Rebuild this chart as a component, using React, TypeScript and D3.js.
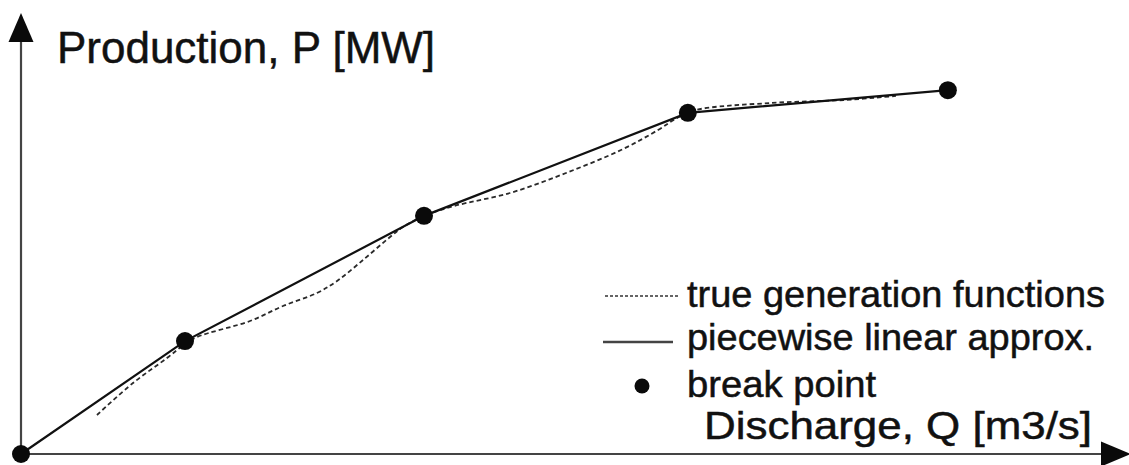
import React from "react";
import * as d3 from "d3";

// Break points of the piecewise linear approximation (Q, P) in relative units
const breakQ = [0, 15.2, 37.35, 61.8, 85.9];
const breakP = [0, 27.4, 57.8, 82.8, 88.3];

// True generation function (dashed curve)
const trueQ = [7.04, 10.38, 13.53, 15.2, 16.31, 21.22, 24.28, 27.43, 29.29, 31.7, 34.2, 35.4, 37.35, 40.13, 45.32, 50.51, 55.61, 59.04, 60.8, 62.56, 69.42, 76.27, 81.09];
const trueP = [9.47, 17.23, 23.3, 26.7, 28.4, 32.28, 35.92, 39.08, 41.99, 47.09, 52.67, 55.1, 57.77, 60.19, 63.35, 68.2, 73.79, 78.64, 81.55, 83.5, 85.19, 85.92, 86.9];

const yLabel = "Production, P [MW]";
const xLabel = "Discharge, Q [m3/s]";
const legendLabels = ["true generation functions", "piecewise linear approx.", "break point"];

const W = 1129;
const H = 465;

export default function App() {
  const x = d3.scaleLinear().domain([0, 100]).range([21, 1100]);
  const y = d3.scaleLinear().domain([0, 100]).range([454, 42]);

  const breaks = breakQ.map((q, i) => [q, breakP[i]] as [number, number]);
  const truePts = trueQ.map((q, i) => [q, trueP[i]] as [number, number]);

  const linear = d3
    .line<[number, number]>()
    .x((d) => x(d[0]))
    .y((d) => y(d[1]));
  const smooth = d3
    .line<[number, number]>()
    .x((d) => x(d[0]))
    .y((d) => y(d[1]))
    .curve(d3.curveCatmullRom.alpha(0.5));

  const font = "'Liberation Sans', Arial, Helvetica, sans-serif";
  const ox = x(0);
  const oy = y(0);
  const textStyle = { stroke: "#111", strokeWidth: 0.5 };

  return (
    <svg
      width={W}
      height={H}
      style={{ position: "absolute", left: 0, top: 0, background: "#fff" }}
      xmlns="http://www.w3.org/2000/svg"
    >
      {/* axes */}
      <line x1={ox} y1={oy} x2={ox} y2={40} stroke="#444" strokeWidth={2.2} />
      <line x1={ox} y1={oy} x2={1102} y2={oy} stroke="#444" strokeWidth={2.2} />
      <path d={`M${ox},13 L${ox - 12.5},42 L${ox + 12.5},42 Z`} fill="#0a0a0a" />
      <path d={`M1131,${oy} L1101,${oy - 12.5} L1101,${oy + 12.5} Z`} fill="#0a0a0a" />

      {/* true generation function */}
      <path
        d={smooth(truePts) || ""}
        fill="none"
        stroke="#2a2a2a"
        strokeWidth={1.8}
        strokeDasharray="4.5 3"
      />
      {/* piecewise linear approximation */}
      <path d={linear(breaks) || ""} fill="none" stroke="#111" strokeWidth={2.2} />
      {/* break points */}
      {breaks.map((d, i) => (
        <circle key={i} cx={x(d[0])} cy={y(d[1])} r={9} fill="#0a0a0a" />
      ))}

      {/* axis labels */}
      <text x={57} y={63} fontFamily={font} fontSize={45} fill="#111" style={textStyle} textLength={378} lengthAdjust="spacingAndGlyphs">
        {yLabel}
      </text>
      <text x={704} y={439} fontFamily={font} fontSize={39} fill="#111" style={textStyle} textLength={388} lengthAdjust="spacingAndGlyphs">
        {xLabel}
      </text>

      {/* legend */}
      <line x1={605} y1={296} x2={679} y2={296} stroke="#333" strokeWidth={1.4} strokeDasharray="3 2" />
      <text x={687} y={307} fontFamily={font} fontSize={37} fill="#111" style={textStyle} textLength={418} lengthAdjust="spacingAndGlyphs">
        {legendLabels[0]}
      </text>
      <line x1={603} y1={342} x2={673} y2={342} stroke="#444" strokeWidth={2.4} />
      <text x={687} y={350} fontFamily={font} fontSize={37} fill="#111" style={textStyle} textLength={407} lengthAdjust="spacingAndGlyphs">
        {legendLabels[1]}
      </text>
      <circle cx={642} cy={386} r={7.5} fill="#0a0a0a" />
      <text x={687} y={397} fontFamily={font} fontSize={37} fill="#111" style={textStyle} textLength={189} lengthAdjust="spacingAndGlyphs">
        {legendLabels[2]}
      </text>
    </svg>
  );
}
